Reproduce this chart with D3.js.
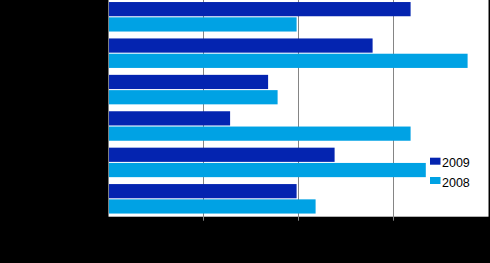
<!DOCTYPE html>
<html>
<head>
<meta charset="utf-8">
<script src="https://cdn.jsdelivr.net/npm/d3@7"></script>
<style>
  html, body { margin: 0; padding: 0; background: #000; }
  svg { display: block; }
</style>
</head>
<body>
<svg></svg>
<script>
(function () {
  var width = 490;
  var height = 263;

  // data (labels on the left are not legible)
  var categories = ["A", "B", "C", "D", "E", "F"];
  var series = ["2009", "2008"];
  var values2009 = [15.9, 13.9, 8.4, 6.4, 11.9, 9.9];
  var values2008 = [9.9, 18.9, 8.9, 15.9, 16.7, 10.9];
  var xTicks = [0, 5, 10, 15, 20];

  var colors = ["#0424b0", "#00a2e4"];

  var svg = d3.select("svg")
        .attr("width", width)
        .attr("height", height);

  var plot = {left: 108.5, right: 488, top: -1.6, bottom: 216.7};

  var x = d3.scaleLinear()
        .domain([0, 20])
        .range([plot.left, plot.left + 380]);

  var y = d3.scaleBand()
        .domain(categories)
        .range([plot.top, plot.top + 218.8])
        .paddingInner(0.19)
        .paddingOuter(0.1);

  var y1 = d3.scaleBand()
        .domain(series)
        .range([0, y.bandwidth()])
        .paddingInner(0.07);

  var z = d3.scaleOrdinal().domain(series).range(colors);

  // white plot area
  svg.append("rect")
    .attr("x", plot.left)
    .attr("y", 0)
    .attr("width", plot.right - plot.left)
    .attr("height", plot.bottom)
    .attr("fill", "#fff");

  // vertical gridlines + small ticks below the plot
  svg.append("g")
    .attr("class", "grid")
    .selectAll("line")
    .data(xTicks.slice(1))
    .enter().append("line")
    .attr("x1", function(d) { return Math.round(x(d)) - 0.5; })
    .attr("x2", function(d) { return Math.round(x(d)) - 0.5; })
    .attr("y1", 0)
    .attr("y2", function(d, i) { return i < 3 ? plot.bottom + 4 : plot.bottom; })
    .attr("stroke", "#858585")
    .attr("stroke-width", 1);

  var rows = categories.map(function(c, i) {
    return {cat: c, vals: [{key: "2009", v: values2009[i]}, {key: "2008", v: values2008[i]}]};
  });

  svg.selectAll(".row")
    .data(rows)
    .enter().append("g")
    .attr("class", "row")
    .attr("transform", function(d) { return "translate(0," + y(d.cat) + ")"; })
    .selectAll("rect")
    .data(function(d) { return d.vals; })
    .enter().append("rect")
    .attr("x", x(0) + 0.5)
    .attr("y", function(d) { return y1(d.key); })
    .attr("width", function(d) { return x(d.v) - x(0) - 0.5; })
    .attr("height", y1.bandwidth())
    .attr("fill", function(d) { return z(d.key); });

  // x axis tick labels (black, as in the original)
  svg.append("g")
    .selectAll("text")
    .data(xTicks)
    .enter().append("text")
    .attr("x", function(d) { return x(d); })
    .attr("y", plot.bottom + 16)
    .attr("text-anchor", function(d, i) { return i === xTicks.length - 1 ? "end" : "middle"; })
    .attr("font-family", "Liberation Sans, Arial, sans-serif")
    .attr("font-size", 12)
    .attr("fill", "#000")
    .text(function(d) { return d; });

  // legend
  var legend = svg.append("g")
    .attr("transform", "translate(430,157.7)");

  var item = legend.selectAll("g")
    .data(series)
    .enter().append("g")
    .attr("transform", function(d, i) { return "translate(0," + (i * 19.3) + ")"; });

  item.append("rect")
    .attr("width", 10.5)
    .attr("height", 7)
    .attr("fill", function(d) { return z(d); });

  item.append("text")
    .attr("x", 12)
    .attr("y", 9.6)
    .attr("font-family", "Liberation Sans, Arial, sans-serif")
    .attr("font-size", 12.5)
    .attr("fill", "#000")
    .text(function(d) { return d; });
})();
</script>
</body>
</html>
